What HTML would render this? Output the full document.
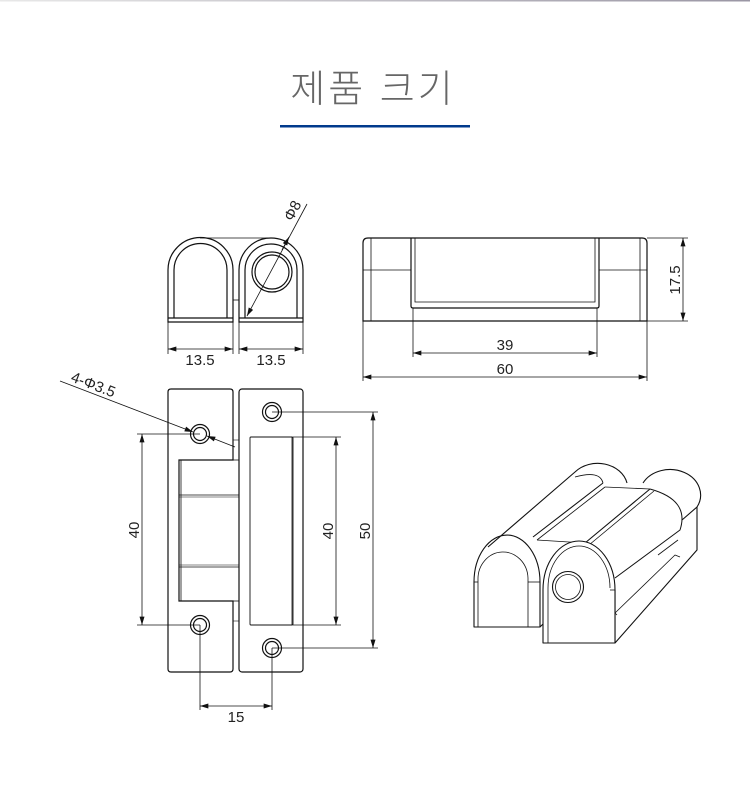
<!DOCTYPE html>
<html><head><meta charset="utf-8"><style>
html,body{margin:0;padding:0;background:#fff;}
svg{display:block}
text{font-family:"Liberation Sans",Arial,sans-serif;fill:#222}
</style></head><body>
<svg width="750" height="791" viewBox="0 0 750 791" xmlns="http://www.w3.org/2000/svg">
<defs>
<linearGradient id="tg" x1="0" x2="1"><stop offset="0" stop-color="#e8e8e8"/><stop offset="1" stop-color="#9a96a4"/></linearGradient>
<marker id="a" viewBox="0 0 10 6" refX="10" refY="3" markerWidth="12" markerHeight="5" orient="auto-start-reverse" markerUnits="userSpaceOnUse"><path d="M0,0 L10,3 L0,6 Z" fill="#111"/></marker>
</defs>
<rect x="0" y="0" width="750" height="1.5" fill="url(#tg)"/>
<text x="373" y="102" text-anchor="middle" style="font-family:'Liberation Sans','Noto Sans CJK KR',sans-serif;font-size:38px;font-weight:300;fill:#666;letter-spacing:3px">제품 크기</text>
<rect x="280" y="125" width="190" height="2.5" fill="#003a8c"/>

<g fill="none" stroke="#111" stroke-width="1.2">
<!-- front view -->
<path d="M168,322 V270 A32.5,32.5 0 0 1 233,270 V322 Z"/>
<path d="M174,318 V270 A26.5,26.5 0 0 1 227,270 V318"/>
<line x1="168" y1="318" x2="233" y2="318"/>
<path d="M239,322 V270 A32,32 0 0 1 303,270 V322 Z"/>
<path d="M245,318 V270 A26,26 0 0 1 297,270 V318"/>
<line x1="239" y1="318" x2="303" y2="318"/>
<line x1="200" y1="238" x2="272" y2="238" stroke-width="0.8"/>
<line x1="233" y1="300" x2="239" y2="300" stroke-width="0.8"/>
<circle cx="272" cy="272" r="20"/>
<circle cx="272" cy="272" r="17"/>
<line x1="247" y1="316" x2="307" y2="204" stroke-width="0.8" marker-start="url(#a)"/>
<line x1="282" y1="250" x2="289" y2="237" stroke-width="0.8" marker-end="url(#a)"/>
<g stroke-width="0.8">
<line x1="168" y1="322" x2="168" y2="354"/><line x1="233" y1="322" x2="233" y2="354"/>
<line x1="239" y1="322" x2="239" y2="354"/><line x1="303" y1="322" x2="303" y2="354"/>
<line x1="168" y1="349" x2="233" y2="349" marker-start="url(#a)" marker-end="url(#a)"/>
<line x1="239" y1="349" x2="303" y2="349" marker-start="url(#a)" marker-end="url(#a)"/>
</g>

<!-- top view -->
<path d="M363,321 V243 Q363,238 368,238 H642 Q647,238 647,243 V321 Z"/>
<line x1="371" y1="238" x2="371" y2="321" stroke-width="0.8"/>
<line x1="640" y1="238" x2="640" y2="321" stroke-width="0.8"/>
<line x1="363" y1="270" x2="411" y2="270" stroke-width="0.8"/>
<line x1="599" y1="270" x2="647" y2="270" stroke-width="0.8"/>
<path d="M411,238 V306 Q411,308 413,308 H597 Q599,308 599,306 V238"/>
<path d="M415,238 V302 H595 V238" stroke-width="0.8"/>
<g stroke-width="0.8">
<line x1="413" y1="308" x2="413" y2="357"/><line x1="597" y1="308" x2="597" y2="357"/>
<line x1="413" y1="353" x2="597" y2="353" marker-start="url(#a)" marker-end="url(#a)"/>
<line x1="363" y1="321" x2="363" y2="381"/><line x1="647" y1="321" x2="647" y2="381"/>
<line x1="363" y1="377" x2="647" y2="377" marker-start="url(#a)" marker-end="url(#a)"/>
<line x1="647" y1="238" x2="688" y2="238"/><line x1="647" y1="321" x2="688" y2="321"/>
<line x1="683" y1="238" x2="683" y2="321" marker-start="url(#a)" marker-end="url(#a)"/>
</g>

<!-- plan view -->
<path d="M171,389 H230 Q233,389 233,392 V460 H179 V601 H233 V669 Q233,672 230,672 H171 Q168,672 168,669 V392 Q168,389 171,389 Z"/>
<line x1="181" y1="460" x2="181" y2="601" stroke-width="0.8"/>
<line x1="179" y1="495" x2="239" y2="495" stroke-width="0.8"/>
<line x1="179" y1="497" x2="239" y2="497" stroke-width="0.6"/>
<line x1="179" y1="567" x2="239" y2="567" stroke-width="0.8"/>
<line x1="179" y1="565" x2="239" y2="565" stroke-width="0.6"/>
<line x1="233" y1="460" x2="239" y2="460" stroke-width="0.8"/>
<line x1="233" y1="601" x2="239" y2="601" stroke-width="0.8"/>
<line x1="233" y1="440" x2="239" y2="440" stroke-width="0.6"/>
<line x1="233" y1="621" x2="239" y2="621" stroke-width="0.6"/>
<rect x="239" y="389" width="64" height="283" rx="3"/>
<rect x="250" y="437" width="43" height="188" rx="1" stroke-width="0.9"/>
<line x1="292" y1="437" x2="292" y2="625" stroke-width="0.8"/>
<g>
<circle cx="200" cy="434" r="9.5"/><circle cx="200" cy="434" r="6.5"/>
<circle cx="200" cy="625" r="9.5"/><circle cx="200" cy="625" r="6.5"/>
<circle cx="272" cy="412" r="9.5"/><circle cx="272" cy="412" r="6.5"/>
<circle cx="272" cy="648" r="9.5"/><circle cx="272" cy="648" r="6.5"/>
</g>
<g stroke-width="0.8">
<line x1="60" y1="381" x2="193" y2="432" marker-end="url(#a)"/>
<line x1="235" y1="447" x2="207" y2="436" marker-end="url(#a)"/>
<line x1="137" y1="434" x2="200" y2="434"/><line x1="137" y1="625" x2="200" y2="625"/>
<line x1="142" y1="434" x2="142" y2="625" marker-start="url(#a)" marker-end="url(#a)"/>
<line x1="293" y1="437" x2="341" y2="437"/><line x1="293" y1="625" x2="341" y2="625"/>
<line x1="336" y1="437" x2="336" y2="625" marker-start="url(#a)" marker-end="url(#a)"/>
<line x1="272" y1="412" x2="378" y2="412"/><line x1="272" y1="648" x2="378" y2="648"/>
<line x1="373" y1="412" x2="373" y2="648" marker-start="url(#a)" marker-end="url(#a)"/>
<line x1="200" y1="625" x2="200" y2="710"/><line x1="272" y1="648" x2="272" y2="710"/>
<line x1="200" y1="706" x2="272" y2="706" marker-start="url(#a)" marker-end="url(#a)"/>
</g>

<!-- iso view -->
<g stroke-width="1.1" stroke-linejoin="round">
<path d="M474,627 V582 A33,47 0 0 1 540,582 V627 Z" fill="#fff"/>
<path d="M478,627 V580 A25,27 0 0 1 528,578 V627" stroke-width="0.8"/>
<line x1="474" y1="582" x2="478" y2="582" stroke-width="0.8"/>
<line x1="528" y1="582" x2="540" y2="582" stroke-width="0.8"/>
<line x1="540" y1="627" x2="543" y2="624"/>
<path d="M488,547 L575,472 A30,25 0 0 1 627,483"/>
<path d="M575,477 Q600,470 603,483" stroke-width="0.8"/>
<line x1="533" y1="537" x2="603" y2="483"/>
<line x1="537" y1="540" x2="605" y2="487" stroke-width="0.8"/>
<line x1="537" y1="540" x2="585" y2="543" stroke-width="0.8"/>
<line x1="605" y1="487" x2="650" y2="489" stroke-width="0.8"/>
<line x1="585" y1="543" x2="650" y2="489"/>
<line x1="589" y1="545" x2="654" y2="491" stroke-width="0.8"/>
<path d="M643,483 A30,25 0 0 1 697,507 V550 L615,643"/>
<path d="M650,489 Q690,500 680,530 L615,578" stroke-width="1"/>
<line x1="697" y1="507" x2="682" y2="520"/>
<line x1="678" y1="540" x2="658" y2="555" stroke-width="0.8"/>
<line x1="615" y1="590" x2="615" y2="643"/>
<path d="M617,615 L615,613 L675,555 L680,557" stroke-width="0.8"/>
<path d="M543,643 V590 A36,49 0 0 1 615,590 V643 Z" fill="#fff"/>
<path d="M548,643 V588 A31,42 0 0 1 610,588" stroke-width="0.8"/>
<line x1="610" y1="590" x2="615" y2="590" stroke-width="0.8"/>
<circle cx="568" cy="587" r="15.5"/>
<circle cx="568" cy="587" r="12.5" stroke-width="0.8"/>
</g>
</g>

<g font-size="15">
<text x="200" y="365" text-anchor="middle">13.5</text>
<text x="271" y="365" text-anchor="middle">13.5</text>
<text x="505" y="350" text-anchor="middle">39</text>
<text x="505" y="374" text-anchor="middle">60</text>
<text transform="translate(680,280) rotate(-90)" text-anchor="middle">17.5</text>
<text transform="translate(297,213) rotate(-62)" text-anchor="middle">Φ8</text>
<text transform="translate(70,381) rotate(21)">4-Φ3.5</text>
<text transform="translate(139,530) rotate(-90)" text-anchor="middle">40</text>
<text transform="translate(333,531) rotate(-90)" text-anchor="middle">40</text>
<text transform="translate(370,531) rotate(-90)" text-anchor="middle">50</text>
<text x="236" y="722" text-anchor="middle">15</text>
</g>
</svg>
</body></html>
